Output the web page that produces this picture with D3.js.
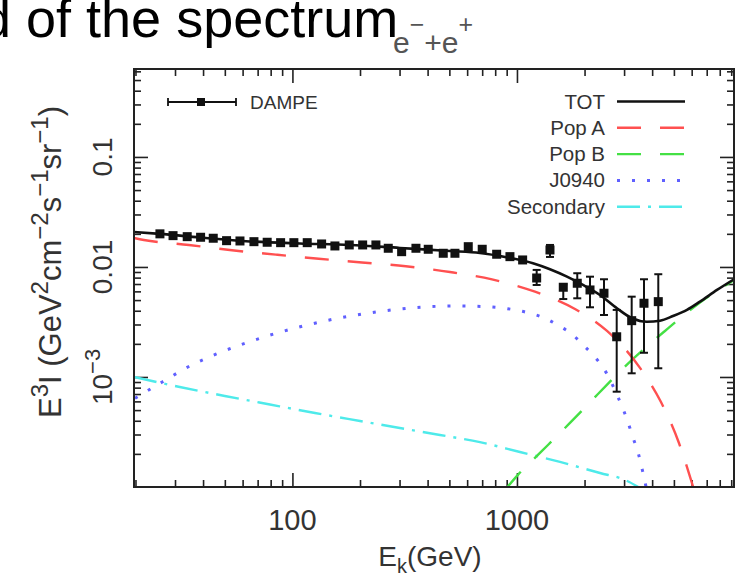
<!DOCTYPE html>
<html>
<head>
<meta charset="utf-8">
<script src="https://cdn.jsdelivr.net/npm/d3@7/dist/d3.min.js"></script>
<style>
body { margin: 0; background: #fff; }
svg { display: block; font-family: "Liberation Sans", Arial, sans-serif; }
</style>
</head>
<body>
<svg id="chart" width="737" height="573"></svg>
<script>
/* global d3 */

// DAMPE e-+e+ points (GeV, E^3 I)
var dampeE = [25.7, 29.4, 34.0, 39.0, 44.4, 50.9, 58.4, 67.4, 77.2, 88.6,
	101.5, 116.4, 134.9, 154.6, 179.1, 205.5, 235.4, 267.2, 306.5, 354.9,
	402.6, 469.6, 529.4, 606.9, 700.3, 812.1, 930.6, 1060, 1224, 1403,
	1608, 1856, 2115, 2441, 2781, 3243, 3679, 4260];
var dampeFlux = [0.0200, 0.01926, 0.01886, 0.01862, 0.01824, 0.01734, 0.01723, 0.01698, 0.01677, 0.01663,
	0.01663, 0.01663, 0.01618, 0.01552, 0.01585, 0.01585, 0.01585, 0.01479, 0.01377, 0.01479,
	0.01448, 0.01332, 0.01332, 0.01529, 0.01448, 0.01305, 0.01241, 0.01158, 0.00794, 0.01427,
	0.00654, 0.00711, 0.00618, 0.00577, 0.00232, 0.00325, 0.00468, 0.00484];
var dampeLo = [0.0200, 0.01926, 0.01886, 0.01862, 0.01824, 0.01734, 0.01723, 0.01698, 0.01677, 0.01663,
	0.01663, 0.01663, 0.01618, 0.01552, 0.01585, 0.01585, 0.01585, 0.01479, 0.01377, 0.01479,
	0.01448, 0.01332, 0.01332, 0.01529, 0.01448, 0.01305, 0.01241, 0.01158, 0.00686, 0.01233,
	0.00511, 0.00519, 0.00430, 0.00366, 0.000735, 0.00108, 0.00166, 0.00120];
var dampeHi = [0.0200, 0.01926, 0.01886, 0.01862, 0.01824, 0.01734, 0.01723, 0.01698, 0.01677, 0.01663,
	0.01663, 0.01663, 0.01618, 0.01552, 0.01585, 0.01585, 0.01585, 0.01479, 0.01377, 0.01479,
	0.01448, 0.01332, 0.01332, 0.01529, 0.01448, 0.01305, 0.01241, 0.01158, 0.0094, 0.01585,
	0.00695, 0.00877, 0.00816, 0.00773, 0.00407, 0.00537, 0.00773, 0.00859];

// model curves
var totE = [19.7, 25.7, 38.7, 64.7, 108, 180, 301, 503, 684, 884, 1178, 1403, 1670, 1968,
	2343, 2788, 3252, 3793, 4335, 4953, 5718, 6534, 7779, 9262];
var totFlux = [0.0208, 0.0200, 0.01854, 0.01706, 0.01635, 0.01585, 0.01489, 0.01398, 0.0134, 0.01233,
	0.0108, 0.00953, 0.00816, 0.00686, 0.00556, 0.00421, 0.00342, 0.00318, 0.00325, 0.00358,
	0.00407, 0.00484, 0.00618, 0.00773];

var popAE = [19.7, 21.8, 34.6, 53.8, 84.4, 131, 204, 320, 503, 774, 1203, 1813, 2518, 3531,
	4379, 5266, 5957, 6337];
var popAFlux = [0.01834, 0.0176, 0.01585, 0.01418, 0.01294, 0.01188, 0.01099, 0.01015, 0.0090, 0.0077,
	0.00596, 0.00415, 0.00262, 0.00121, 0.000592, 0.000251, 0.000116, 0.0000762];

var popBE = [884, 1010, 1266, 1722, 2295, 3252, 4562, 6401, 9262];
var popBFlux = [0.000094, 0.000129, 0.000204, 0.000382, 0.0007, 0.00143, 0.00262, 0.00461, 0.00762];

var j0940E = [19.9, 26.2, 34.4, 45.6, 61.4, 82.7, 112, 152, 207, 283, 386, 529, 720, 980, 1143,
	1333, 1543, 1753, 1974, 2203, 2416, 2615, 2781, 2956, 3132, 3296, 3470, 3594, 3717, 3794];
var j0940Flux = [0.00064, 0.000895, 0.00124, 0.00161, 0.00202, 0.00246, 0.00291, 0.00335, 0.00374, 0.00409,
	0.00433, 0.00442, 0.00436, 0.00407, 0.0038, 0.00342, 0.00291, 0.00246, 0.00195, 0.00155,
	0.00122, 0.00092, 0.000696, 0.000523, 0.00038, 0.000277, 0.000203, 0.000151, 0.000112, 0.00009];

var secE = [19.7, 31.5, 50.0, 79.4, 126, 200, 317, 454, 684, 1031, 1554, 2343, 3028, 3532];
var secFlux = [0.001, 0.000811, 0.000672, 0.000562, 0.000471, 0.000398, 0.000337, 0.000297, 0.000256,
	0.000208, 0.000169, 0.000134, 0.000116, 0.000098];

var legendLabels = ["TOT", "Pop A", "Pop B", "J0940", "Secondary"];
var xMajor = [100, 1000];
var xMinor = [20, 30, 40, 50, 60, 70, 80, 90, 200, 300, 400, 500, 600, 700, 800, 900,
	2000, 3000, 4000, 5000, 6000, 7000, 8000, 9000];
var yMajor = [0.001, 0.01, 0.1];
var yMinor = [0.0002, 0.0003, 0.0004, 0.0005, 0.0006, 0.0007, 0.0008, 0.0009,
	0.002, 0.003, 0.004, 0.005, 0.006, 0.007, 0.008, 0.009,
	0.02, 0.03, 0.04, 0.05, 0.06, 0.07, 0.08, 0.09, 0.2, 0.3, 0.4, 0.5, 0.6];

var margin = {top: 69, right: 3, bottom: 86, left: 134},
	width = 737,
	height = 573,
	innerWidth = width - margin.left - margin.right,
	innerHeight = height - margin.top - margin.bottom,
	ink = "#222",
	textCol = "#333";

var styles = [
	{color: "#111", dash: null, width: 2.6},
	{color: "#ff5050", dash: "24,19", width: 2.4},
	{color: "#44e044", dash: "24,19", width: 2.4},
	{color: "#6060ff", dash: "3,12", width: 3},
	{color: "#4eeaea", dash: "23,8,3,8", width: 2.4}
];

var xScale = d3.scaleLog().domain([19.7, 9260]).range([0, innerWidth]);
var yScale = d3.scaleLog().domain([1e-4, 0.63]).range([innerHeight, 0]);

var svg = d3.select("#chart");

// slide title, cut at the top-left
svg.append("text")
	.attr("x", -19)
	.attr("y", 37)
	.attr("font-size", 54)
	.attr("fill", "#000")
	.text("d of the spectrum");
var sub = svg.append("text")
	.attr("x", 393)
	.attr("y", 53)
	.attr("font-size", 30)
	.attr("fill", "#555");
sub.append("tspan").text("e");
sub.append("tspan").attr("dy", -20).attr("font-size", 25).text("\u2212");
sub.append("tspan").attr("dy", 20).text("+e");
sub.append("tspan").attr("dy", -20).attr("font-size", 25).text("+");

var g = svg.append("g")
	.attr("transform", "translate(" + margin.left + "," + margin.top + ")");

g.append("clipPath").attr("id", "plotclip")
	.append("rect").attr("width", innerWidth).attr("height", innerHeight);

// inward ticks on all four sides
function tickAxis(axis, values, size, transform) {
	g.append("g")
		.attr("transform", transform)
		.call(axis.tickValues(values).tickSize(size).tickFormat(""))
		.call(function(s) {
			s.select(".domain").remove();
			s.selectAll("line").attr("stroke", ink).attr("stroke-width", 1.6);
		});
}
tickAxis(d3.axisBottom(xScale), xMinor, -7, "translate(0," + innerHeight + ")");
tickAxis(d3.axisBottom(xScale), xMajor, -14, "translate(0," + innerHeight + ")");
tickAxis(d3.axisTop(xScale), xMinor, -7, "translate(0,0)");
tickAxis(d3.axisTop(xScale), xMajor, -14, "translate(0,0)");
tickAxis(d3.axisLeft(yScale), yMinor, -7, "translate(0,0)");
tickAxis(d3.axisLeft(yScale), yMajor, -14, "translate(0,0)");
tickAxis(d3.axisRight(yScale), yMinor, -7, "translate(" + innerWidth + ",0)");
tickAxis(d3.axisRight(yScale), yMajor, -14, "translate(" + innerWidth + ",0)");

// curves
var line = d3.line()
	.x(function(d) { return xScale(d[0]); })
	.y(function(d) { return yScale(d[1]); })
	.curve(d3.curveMonotoneX);

var curves = [
	[totE, totFlux],
	[popAE, popAFlux],
	[popBE, popBFlux],
	[j0940E, j0940Flux],
	[secE, secFlux]
];

var plot = g.append("g").attr("clip-path", "url(#plotclip)");

// draw the thin ones first, TOT on top
[4, 3, 2, 1, 0].forEach(function(i) {
	var pts = d3.zip(curves[i][0], curves[i][1]);
	plot.append("path")
		.datum(pts)
		.attr("fill", "none")
		.attr("stroke", styles[i].color)
		.attr("stroke-width", styles[i].width)
		.attr("stroke-dasharray", styles[i].dash)
		.attr("d", line);
});

// DAMPE points with error bars
var pts = d3.range(dampeE.length).map(function(i) {
	return {e: dampeE[i], f: dampeFlux[i], lo: dampeLo[i], hi: dampeHi[i]};
});
var pg = plot.selectAll(".pt").data(pts).enter().append("g").attr("class", "pt");
pg.filter(function(d) { return d.hi > d.lo; }).each(function(d) {
	var s = d3.select(this), cx = xScale(d.e);
	s.append("line").attr("x1", cx).attr("x2", cx)
		.attr("y1", yScale(d.lo)).attr("y2", yScale(d.hi))
		.attr("stroke", "#111").attr("stroke-width", 2);
	[d.lo, d.hi].forEach(function(v) {
		s.append("line").attr("x1", cx - 4).attr("x2", cx + 4)
			.attr("y1", yScale(v)).attr("y2", yScale(v))
			.attr("stroke", "#111").attr("stroke-width", 2);
	});
});
pg.append("rect")
	.attr("x", function(d) { return xScale(d.e) - 4.5; })
	.attr("y", function(d) { return yScale(d.f) - 4.5; })
	.attr("width", 9).attr("height", 9)
	.attr("fill", "#111");

// frame
g.append("rect")
	.attr("width", innerWidth).attr("height", innerHeight)
	.attr("fill", "none").attr("stroke", ink).attr("stroke-width", 2);

// x tick labels
g.selectAll(".xlab").data(xMajor).enter().append("text")
	.attr("x", function(d) { return xScale(d); })
	.attr("y", innerHeight + 43)
	.attr("text-anchor", "middle")
	.attr("font-size", 29)
	.attr("fill", textCol)
	.text(function(d) { return d; });

// y tick labels (rotated)
var yLabText = ["10", "0.01", "0.1"];
yMajor.forEach(function(v, i) {
	var t = svg.append("text")
		.attr("transform", "translate(112," + (margin.top + yScale(v)) + ") rotate(-90)")
		.attr("text-anchor", "middle")
		.attr("font-size", 28)
		.attr("fill", textCol);
	t.append("tspan").text(yLabText[i]);
	if (i === 0) {
		t.append("tspan").attr("dy", -12).attr("font-size", 22).text("\u22123");
	}
});

// axis titles
var xt = svg.append("text")
	.attr("x", margin.left + innerWidth / 2 - 4)
	.attr("y", 566)
	.attr("text-anchor", "middle")
	.attr("font-size", 28)
	.attr("fill", textCol);
xt.append("tspan").text("E");
xt.append("tspan").attr("dy", 7).attr("font-size", 20).text("k");
xt.append("tspan").attr("dy", -7).text("(GeV)");

var yt = svg.append("text")
	.attr("transform", "translate(61,262) rotate(-90)")
	.attr("text-anchor", "middle")
	.attr("font-size", 31)
	.attr("fill", textCol);
[["E", 0], ["3", -1], ["I (GeV", 0], ["2", -1], ["cm", 0], ["\u22122", -1], ["s", 0],
	["\u22121", -1], ["sr", 0], ["\u22121", -1], [")", 0]].forEach(function(p, i, arr) {
	var prev = i > 0 ? arr[i - 1][1] : 0;
	yt.append("tspan")
		.attr("dy", (p[1] - prev) * 13)
		.attr("font-size", p[1] ? 24 : 31)
		.text(p[0]);
});

// DAMPE legend entry
var lg = g.append("g").attr("transform", "translate(0,33)");
lg.append("line").attr("x1", 34).attr("x2", 102).attr("stroke", "#111").attr("stroke-width", 1.8);
[34, 102].forEach(function(x) {
	lg.append("line").attr("x1", x).attr("x2", x).attr("y1", -4).attr("y2", 4)
		.attr("stroke", "#111").attr("stroke-width", 1.8);
});
lg.append("rect").attr("x", 63).attr("y", -4).attr("width", 8).attr("height", 8).attr("fill", "#111");
lg.append("text").attr("x", 116).attr("y", 7).attr("font-size", 19).attr("fill", textCol).text("DAMPE");

// model legend
var rows = g.selectAll(".leg").data(legendLabels).enter().append("g")
	.attr("class", "leg")
	.attr("transform", function(d, i) { return "translate(0," + (32.5 + i * 26.3) + ")"; });
rows.append("text")
	.attr("x", 471).attr("y", 7)
	.attr("text-anchor", "end")
	.attr("font-size", 20.5)
	.attr("fill", textCol)
	.text(function(d) { return d; });
rows.append("line")
	.attr("x1", 483).attr("x2", 551)
	.attr("stroke", function(d, i) { return styles[i].color; })
	.attr("stroke-width", function(d, i) { return styles[i].width; })
	.attr("stroke-dasharray", function(d, i) { return styles[i].dash; });
</script>
</body>
</html>
